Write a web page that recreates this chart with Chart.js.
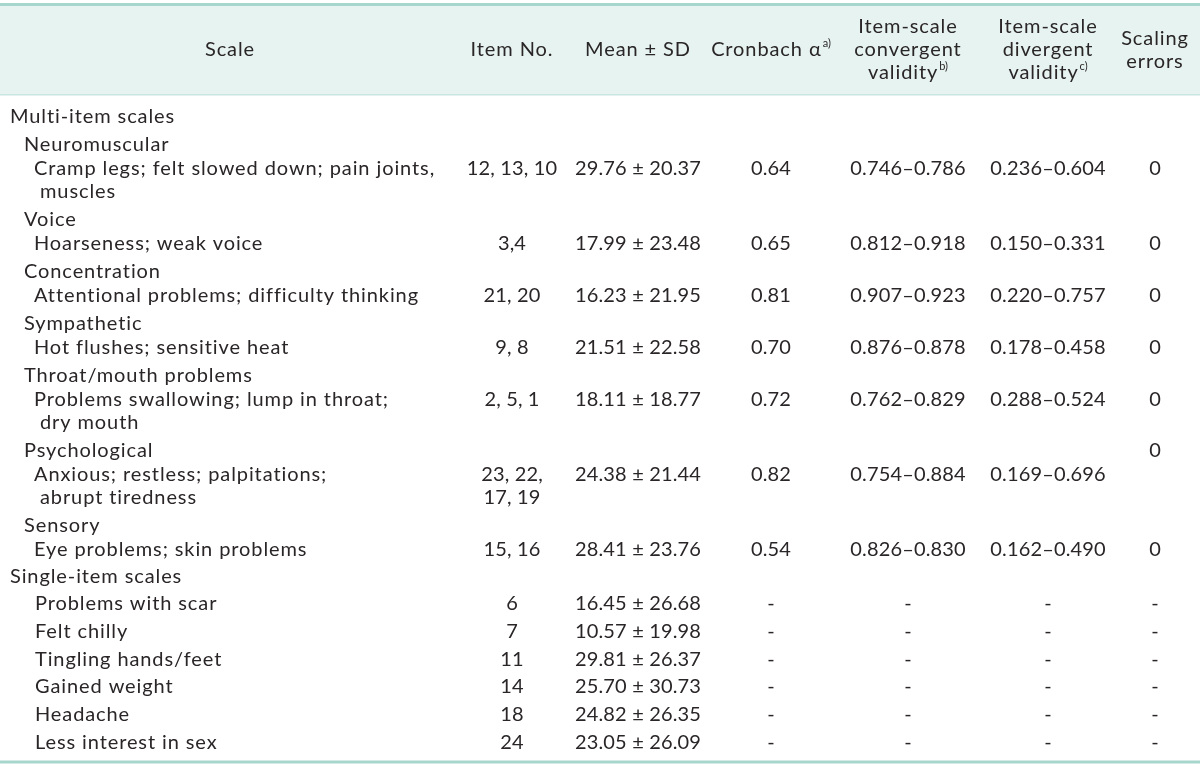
<!DOCTYPE html>
<html><head><meta charset="utf-8">
<script src="https://cdn.jsdelivr.net/npm/chart.js@4.4.1/dist/chart.umd.min.js"></script>
<style>html,body{margin:0;padding:0;background:#fff}canvas{display:block}</style>
</head><body>
<canvas id="c" width="1200" height="768"></canvas>
<script>
// ---------- DATA ----------
const columnHeaders = [["Scale"], ["Item No."], ["Mean ± SD"], ["Cronbach α"], ["Item-scale", "convergent", "validity"], ["Item-scale", "divergent", "validity"], ["Scaling", "errors"]];
const headerNotes = ["", "", "", "a)", "b)", "c)", ""];
const rowKinds = ["section", "group", "item", "group", "item", "group", "item", "group", "item", "group", "item", "group", "item", "group", "item", "section", "single", "single", "single", "single", "single", "single"];
const scaleNames = [
  "Multi-item scales", "Neuromuscular", "Cramp legs; felt slowed down; pain joints,\nmuscles",
  "Voice", "Hoarseness; weak voice", "Concentration", "Attentional problems; difficulty thinking",
  "Sympathetic", "Hot flushes; sensitive heat", "Throat/mouth problems", "Problems swallowing; lump in throat;\ndry mouth",
  "Psychological", "Anxious; restless; palpitations;\nabrupt tiredness", "Sensory", "Eye problems; skin problems",
  "Single-item scales", "Problems with scar", "Felt chilly", "Tingling hands/feet", "Gained weight", "Headache", "Less interest in sex"];
const itemNumbers = ["", "", "12, 13, 10", "", "3,4", "", "21, 20", "", "9, 8", "", "2, 5, 1", "", "23, 22,\n17, 19", "", "15, 16", "", "6", "7", "11", "14", "18", "24"];
const meanSD = ["", "", "29.76 ± 20.37", "", "17.99 ± 23.48", "", "16.23 ± 21.95", "", "21.51 ± 22.58", "", "18.11 ± 18.77", "", "24.38 ± 21.44", "", "28.41 ± 23.76", "", "16.45 ± 26.68", "10.57 ± 19.98", "29.81 ± 26.37", "25.70 ± 30.73", "24.82 ± 26.35", "23.05 ± 26.09"];
const cronbachAlpha = ["", "", "0.64", "", "0.65", "", "0.81", "", "0.70", "", "0.72", "", "0.82", "", "0.54", "", "-", "-", "-", "-", "-", "-"];
const convergentValidity = ["", "", "0.746–0.786", "", "0.812–0.918", "", "0.907–0.923", "", "0.876–0.878", "", "0.762–0.829", "", "0.754–0.884", "", "0.826–0.830", "", "-", "-", "-", "-", "-", "-"];
const divergentValidity = ["", "", "0.236–0.604", "", "0.150–0.331", "", "0.220–0.757", "", "0.178–0.458", "", "0.288–0.524", "", "0.169–0.696", "", "0.162–0.490", "", "-", "-", "-", "-", "-", "-"];
const scalingErrors = ["", "", "0", "", "0", "", "0", "", "0", "", "0", "0", "", "", "0", "", "-", "-", "-", "-", "-", "-"];

// ---------- LAYOUT / STYLE ----------
const layout = {
  colWidths: [460, 104, 148, 118, 156, 124, 90],
  indent: { section: 10, group: 24, item: 34, single: 35 },
  contIndent: 6,
  firstLine: 117,
  gapBefore: { section: 27, group: 28, groupAfterSection: 28, item: 24, single: 27.7 },
  contGap: 22.7,
  headerTop: 6, headerBottom: 94, headerMid: 50, headerLineGap: 23,
  bottomRule: 762,
  canvasH: 768
};
const style = {
  font: '20px Lato, "Noto Sans", sans-serif',
  supFont: '11px Lato, "Noto Sans", sans-serif',
  textSpacing: '0.9px',
  numberSpacing: '0.15px',
  text: '#2a2627',
  headerBg: '#e6f3f0',
  rule: '#a7d6cc',
  thinRule: '#c9e5df'
};

// ---------- derived positions ----------
const totalW = layout.colWidths.reduce((a, b) => a + b, 0);
const colCenters = [];
{ let acc = 0; layout.colWidths.forEach(w => { colCenters.push(acc + w / 2); acc += w; }); }

const rowY = [];
{
  let y = layout.firstLine, prevLines = 1;
  rowKinds.forEach((k, i) => {
    if (i > 0) {
      y += (prevLines - 1) * layout.contGap;
      let g = layout.gapBefore[k];
      if (k === 'group' && rowKinds[i - 1] === 'section') g = layout.gapBefore.groupAfterSection;
      y += g;
    }
    rowY.push(y);
    prevLines = scaleNames[i].split('\n').length;
  });
}

function linePoints(col, values) {
  const pts = [];
  values.forEach((v, r) => {
    if (!v) return;
    v.split('\n').forEach((line, li) => {
      let x;
      if (col === 0) x = layout.indent[rowKinds[r]] + (li > 0 ? layout.contIndent : 0);
      else x = colCenters[col];
      pts.push({ x: x, y: rowY[r] + li * layout.contGap, text: line });
    });
  });
  return pts;
}

const headerPts = [];
columnHeaders.forEach((lines, c) => {
  const n = lines.length;
  lines.forEach((t, li) => {
    headerPts.push({
      x: colCenters[c],
      y: layout.headerMid + (li - (n - 1) / 2) * layout.headerLineGap,
      text: t,
      sup: li === n - 1 ? headerNotes[c] : ''
    });
  });
});

const columns = [scaleNames, itemNumbers, meanSD, cronbachAlpha, convergentValidity, divergentValidity, scalingErrors];
const datasets = [{ label: 'header', data: headerPts, align: 'center', spacing: style.textSpacing }].concat(
  columns.map((vals, c) => ({ label: 'col' + c, data: linePoints(c, vals), align: c === 0 ? 'left' : 'center', spacing: c === 0 ? style.textSpacing : style.numberSpacing }))
).map(d => Object.assign(d, { pointRadius: 0, showLine: false }));

const tablePlugin = {
  id: 'tablePlugin',
  beforeDatasetsDraw(chart) {
    const { ctx, chartArea, scales: { y } } = chart;
    ctx.save();
    const top = y.getPixelForValue(layout.headerTop), bot = y.getPixelForValue(layout.headerBottom);
    ctx.fillStyle = style.headerBg;
    ctx.fillRect(chartArea.left, top, chartArea.right - chartArea.left, bot - top);
    ctx.fillStyle = style.rule;
    ctx.fillRect(chartArea.left, top - 3, chartArea.right - chartArea.left, 3);
    ctx.fillStyle = style.thinRule;
    ctx.fillRect(chartArea.left, bot, chartArea.right - chartArea.left, 1.5);
    ctx.fillStyle = style.rule;
    const b = y.getPixelForValue(layout.bottomRule);
    ctx.fillRect(chartArea.left, b - 1.5, chartArea.right - chartArea.left, 3);
    ctx.restore();
  },
  afterDatasetsDraw(chart) {
    const ctx = chart.ctx;
    ctx.save();
    ctx.fillStyle = style.text;
    ctx.textBaseline = 'middle';
    ctx.textAlign = 'left';
    chart.data.datasets.forEach((ds, i) => {
      const meta = chart.getDatasetMeta(i);
      meta.data.forEach((el, j) => {
        const raw = ds.data[j];
        ctx.font = style.font;
        ctx.letterSpacing = ds.spacing;
        const w = ctx.measureText(raw.text).width;
        let sw = 0;
        if (raw.sup) { ctx.font = style.supFont; ctx.letterSpacing = '0px'; sw = ctx.measureText(raw.sup).width + 1; }
        const x0 = ds.align === 'left' ? el.x : el.x - (w + sw) / 2;
        ctx.font = style.font;
        ctx.letterSpacing = ds.spacing;
        ctx.fillText(raw.text, x0, el.y);
        if (raw.sup) {
          ctx.font = style.supFont;
          ctx.letterSpacing = '0px';
          ctx.fillText(raw.sup, x0 + w + 1, el.y - 7);
        }
      });
    });
    ctx.restore();
  }
};

new Chart(document.getElementById('c'), {
  type: 'scatter',
  data: { datasets },
  options: {
    responsive: false,
    animation: false,
    events: [],
    layout: { padding: 0 },
    plugins: { legend: { display: false }, tooltip: { enabled: false } },
    scales: {
      x: { type: 'linear', min: 0, max: totalW, display: false },
      y: { type: 'linear', min: 0, max: layout.canvasH, reverse: true, display: false }
    }
  },
  plugins: [tablePlugin]
});
</script>
</body></html>
